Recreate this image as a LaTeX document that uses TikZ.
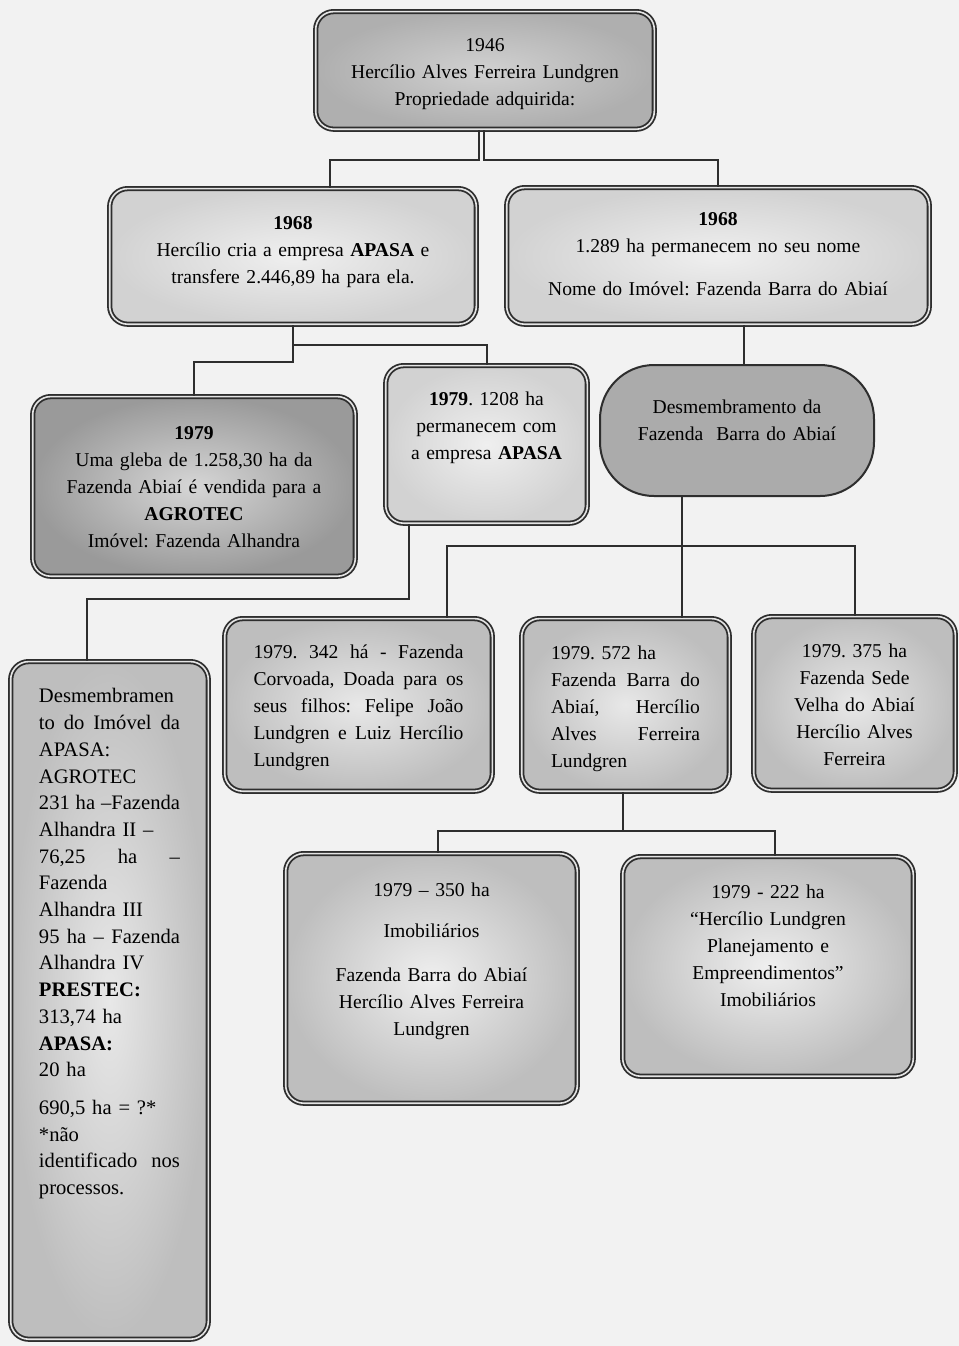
\documentclass[tikz,border=0pt]{standalone}
\usepackage{fontspec}
\setmainfont{Liberation Serif}[BoldFont={Liberation Serif Bold}]
\usepackage{tikz}
\frenchspacing

% Greys of the scan
\definecolor{bggray}{HTML}{F2F2F2}
\definecolor{linegray}{HTML}{2E2E2E}
\definecolor{gapgray}{HTML}{E4E4E4}
\definecolor{splitgray}{HTML}{ABABAB}
\definecolor{lightin}{HTML}{EFEFEF}
\definecolor{lightout}{HTML}{D2D2D2}
\definecolor{midin}{HTML}{E8E8E8}
\definecolor{midout}{HTML}{BEBEBE}
\definecolor{darkin}{HTML}{D6D6D6}
\definecolor{darkout}{HTML}{9A9A9A}

\tikzstyle{event} = [rectangle, anchor=north, rounded corners=9pt, draw=linegray,
                     line width=0.9pt, double=gapgray, double distance=0.8pt,
                     inner xsep=5pt, inner ysep=0pt, align=center,
                     font=\fontsize{9.8pt}{13.5pt}\selectfont]
\tikzstyle{split} = [rectangle, anchor=north, rounded corners=27pt, draw=linegray,
                     line width=1pt, fill=splitgray, inner xsep=5pt, inner ysep=0pt,
                     align=center, font=\fontsize{9.8pt}{13.5pt}\selectfont]
\tikzstyle{link} = [draw=linegray, line width=1pt]

\begin{document}
\begin{tikzpicture}[x=0.5pt, y=-0.5pt]
  \useasboundingbox (0,0) rectangle (959,1346);
  \fill [bggray] (0,0) rectangle (959,1346);

  % 1946
  \node (A) [event, inner color=midin!90!black, outer color=midout!92!black,
             text width=159.3pt, text height=20.15pt, text depth=38.65pt] at (485,10.7)
    {1946\\Hercílio Alves Ferreira Lundgren\\Propriedade adquirida:};

  % 1968
  \node (B) [event, inner color=lightin, outer color=lightout,
             text width=173.3pt, text height=20.65pt, text depth=47.15pt] at (293,187.7)
    {\textbf{1968}\\Hercílio cria a empresa \textbf{APASA} e\\transfere 2.446,89 ha para ela.};
  \node (C) [event, inner color=lightin, outer color=lightout,
             text width=201.3pt, text height=19.15pt, text depth=49.15pt] at (718,186.7)
    {\textbf{1968}\\1.289 ha permanecem no seu nome\\[8pt]Nome do Imóvel: Fazenda Barra do Abiaí};

  % 1979, first split
  \node (D) [event, inner color=darkin, outer color=darkout,
             text width=151.3pt, text height=21.65pt, text depth=68.15pt] at (194,395.7)
    {\textbf{1979}\\Uma gleba de 1.258,30 ha da\\Fazenda Abiaí é vendida para a\\
     \textbf{AGROTEC}\\Imóvel: Fazenda Alhandra};
  \node (E) [event, inner color=lightin, outer color=lightout,
             text width=90.8pt, text height=20.15pt, text depth=58.65pt] at (486.5,364.7)
    {\textbf{1979}. 1208 ha\\permanecem com\\a empresa \textbf{APASA}};
  \node (F) [split, text width=127pt, text height=24pt, text depth=41.5pt] at (737,364)
    {Desmembramento da\\Fazenda\ \ Barra do Abiaí};

  % 1979, parts of the Fazenda Barra do Abiaí
  \node (G) [event, inner color=midin, outer color=midout, align=left, inner xsep=14.4pt,
             text width=105pt, text height=20.15pt, text depth=66.15pt] at (358.5,617.7)
    {1979.\hfill 342\hfill há\hfill -\hfill Fazenda\\
     Corvoada,\hfill Doada\hfill para\hfill os\\
     seus\hfill filhos:\hfill Felipe\hfill João\\
     Lundgren\hfill e\hfill Luiz\hfill Hercílio\\
     Lundgren};
  \node (H) [event, inner color=midin, outer color=midout, align=left, inner xsep=14.65pt,
             text width=74.5pt, text height=20.65pt, text depth=65.65pt] at (625.5,617.7)
    {1979. 572 ha\\
     Fazenda\hfill Barra\hfill do\\
     Abiaí,\hfill Hercílio\\
     Alves\hfill Ferreira\\
     Lundgren};
  \node (K) [event, inner color=midin, outer color=midout,
             text width=90.8pt, text height=20.65pt, text depth=66.15pt] at (854.5,615.7)
    {1979. 375 ha\\Fazenda Sede\\Velha do Abiaí\\Hercílio Alves\\Ferreira};

  % 1979, parts of the 572 ha
  \node (I) [event, inner color=lightin, outer color=midout,
             text width=135.8pt, text height=21.65pt, text depth=103.15pt] at (431.5,852.7)
    {1979 – 350 ha\\[7pt]Imobiliários\\[8.5pt]Fazenda Barra do Abiaí\\
     Hercílio Alves Ferreira\\Lundgren};
  \node (J) [event, inner color=lightin, outer color=midout,
             text width=135.3pt, text height=21.15pt, text depth=88.65pt] at (768,855.7)
    {1979 - 222 ha\\“Hercílio Lundgren\\Planejamento e\\Empreendimentos”\\Imobiliários};

  % parts of the APASA land
  \node (L) [event, inner color=midin, outer color=midout, align=left, inner xsep=14.15pt,
             font=\fontsize{10.3pt}{13.35pt}\selectfont,
             text width=70.5pt, text height=20.65pt, text depth=318.15pt] at (109.5,660.7)
    {Desmembramen\\
     to\hfill do\hfill Imóvel\hfill da\\
     APASA:\\
     AGROTEC\\
     231\hfill ha\hfill –Fazenda\\
     Alhandra II –\\
     76,25\hfill ha\hfill –\\
     Fazenda\\
     Alhandra III\\
     95\hfill ha\hfill –\hfill Fazenda\\
     Alhandra IV\\
     \textbf{PRESTEC:}\\
     313,74 ha\\
     \textbf{APASA:}\\
     20 ha\\[5.5pt]
     690,5 ha = ?*\\
     {*}não\\
     identificado\hfill nos\\
     processos.};

  % connectors
  \path [link] ([xshift=-3pt]A.south) -- ++(0,30) -| ([xshift=18.5pt]B.north);
  \path [link] ([xshift=-0.5pt]A.south) -- ++(0,30) -| (C.north);
  \path [link] (B.south) -- ++(0,37) -| (D.north);
  \path [link] (B.south) -- ++(0,20) -| (E.north);
  \path [link] ([xshift=13pt]C.south) -- ([xshift=13pt]C.south |- F.north);
  \path [link] ([xshift=-39pt]E.south) -- ++(0,75) -| ([xshift=-11.25pt]L.north);
  \path [link] ([xshift=-27.5pt]F.south) -- ([xshift=-27.5pt]F.south |- H.north);
  \path [link] ([xshift=44.25pt]G.north) -- ++(0,-71.7) -| (K.north);
  \path [link] ([xshift=-1.25pt]H.south) -- ++(0,38.7) -| ([xshift=3.25pt]I.north);
  \path [link] ([xshift=-1.25pt]H.south) -- ++(0,38.7) -| ([xshift=3.5pt]J.north);
\end{tikzpicture}
\end{document}
